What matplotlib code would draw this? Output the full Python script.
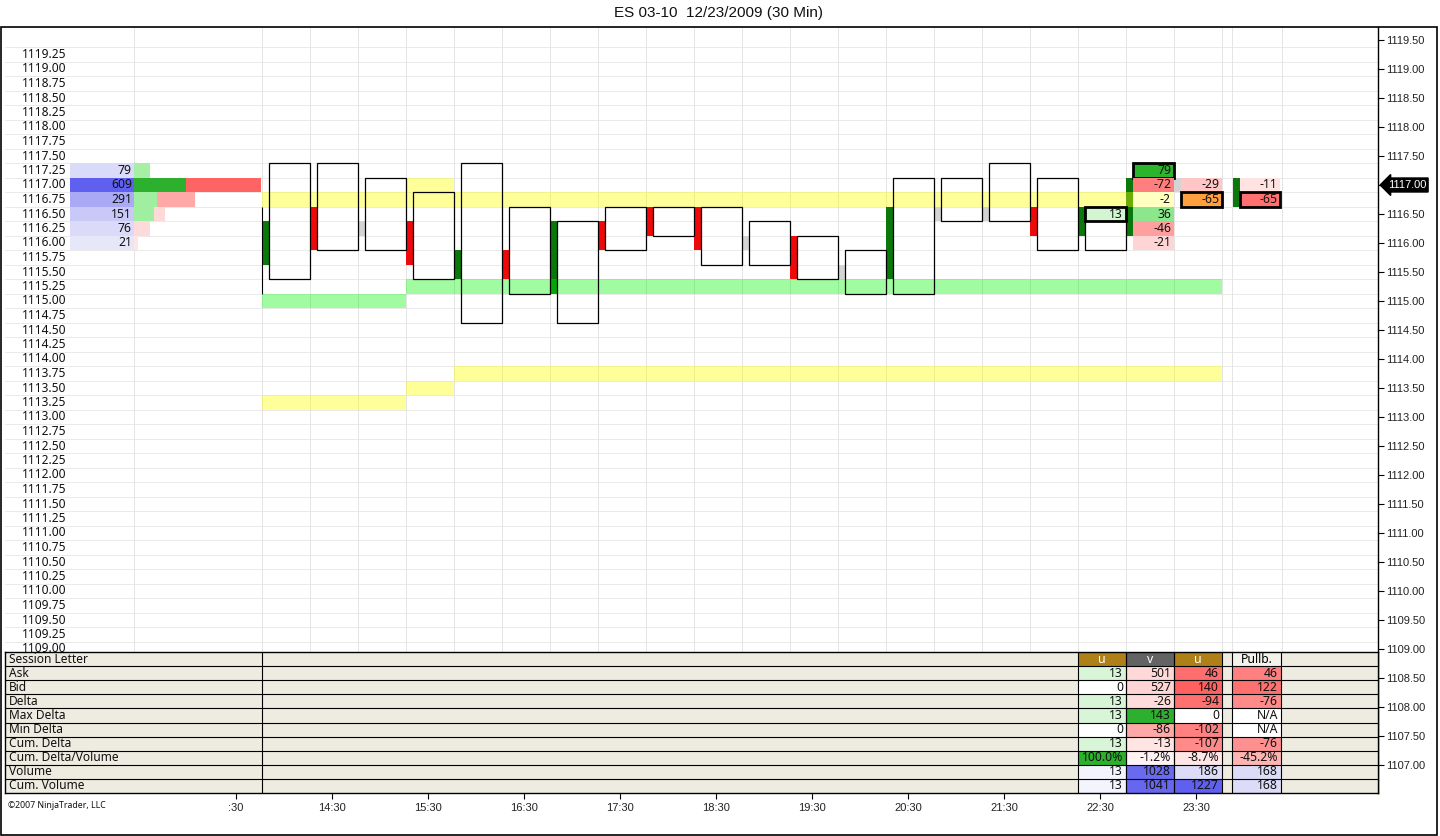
import matplotlib
matplotlib.use("Agg")
import matplotlib.pyplot as plt
import matplotlib.transforms as mtransforms
from matplotlib.patches import Rectangle
import numpy as np

# ---------------- data ----------------
title = "ES 03-10  12/23/2009 (30 Min)"

# 30-min bars (range boxes)
bar_high = [1117.25, 1117.25, 1117.00, 1116.75, 1117.25, 1116.50, 1116.25, 1116.50, 1116.50,
            1116.50, 1116.25, 1116.00, 1115.75, 1117.00, 1117.00, 1117.25, 1117.00, 1116.50]
bar_low = [1115.50, 1116.00, 1116.00, 1115.50, 1114.75, 1115.25, 1114.75, 1116.00, 1116.25,
           1115.75, 1115.75, 1115.50, 1115.25, 1115.25, 1116.50, 1116.50, 1116.00, 1116.00]

# side (open/close) marker per bar
side_dir = ['up', 'dn', 'flat', 'dn', 'up', 'dn', 'up', 'dn', 'dn', 'dn',
            'flat', 'dn', 'flat', 'up', 'flat', 'flat', 'dn', 'up', 'up', 'flat']
side_top = [1116.25, 1116.50, 1116.25, 1116.25, 1115.75, 1115.75, 1116.25, 1116.25, 1116.50, 1116.50,
            1116.00, 1116.00, 1115.50, 1116.50, 1116.50, 1116.50, 1116.50, 1116.50, 1117.00, 1117.00]
side_bot = [1115.75, 1116.00, 1116.25, 1115.75, 1115.50, 1115.50, 1115.25, 1116.00, 1116.25, 1116.00,
            1116.00, 1115.50, 1115.50, 1115.50, 1116.50, 1116.50, 1116.25, 1116.25, 1116.25, 1117.00]

# delta cells (bar index, price, value)
cell_bar = [17, 18, 18, 18, 18, 18, 18, 19, 19]
cell_price = [1116.50, 1117.25, 1117.00, 1116.75, 1116.50, 1116.25, 1116.00, 1117.00, 1116.75]
cell_value = [13, 79, -72, -2, 36, -46, -21, -29, -65]

# pullback column
pullb_side_top = 1117.00
pullb_side_bot = 1116.75
pullb_price = [1117.00, 1116.75]
pullb_value = [-11, -65]

# horizontal levels (price, start bar, end bar)
band_price = [1116.75, 1117.00, 1113.25, 1113.50, 1113.75, 1115.00, 1115.25]
band_start = [0, 3, 0, 3, 4, 0, 3]
band_end = [19, 4, 3, 4, 20, 3, 20]
band_kind = ['yellow', 'yellow', 'yellow', 'yellow', 'yellow', 'green', 'green']

# session volume profile
profile_price = [1117.25, 1117.00, 1116.75, 1116.50, 1116.25, 1116.00]
profile_volume = [79, 609, 291, 151, 76, 21]
profile_ask = [79, 249, 110, 97, 0, 0]
profile_bid = [0, 360, 181, 54, 76, 21]

# statistics table
row_labels = ["Session Letter", "Ask", "Bid", "Delta", "Max Delta", "Min Delta",
              "Cum. Delta", "Cum. Delta/Volume", "Volume", "Cum. Volume"]
col_headers = ["u", "v", "u", "Pullb."]
col_a = ["13", "0", "13", "13", "0", "13", "100.0%", "13", "13"]
col_b = ["501", "527", "-26", "143", "-86", "-13", "-1.2%", "1028", "1041"]
col_c = ["46", "140", "-94", "0", "-102", "-107", "-8.7%", "186", "1227"]
col_d = ["46", "122", "-76", "N/A", "N/A", "-76", "-45.2%", "168", "168"]

time_labels = [":30", "14:30", "15:30", "16:30", "17:30", "18:30",
               "19:30", "20:30", "21:30", "22:30", "23:30"]
last_price = 1117.00

# ---------------- styles ----------------
W, H = 1440, 836
SLOT_X0, SLOT_W = 262.0, 48.0          # pixel origin / width of one bar slot
def k(px):
    return (px - SLOT_X0) / SLOT_W

SIDE_W = 7 / SLOT_W
TICK = 0.25
side_colors = {'up': '#0A780A', 'dn': '#EE0A0A', 'flat': '#D4D4D4'}
band_colors = {'yellow': (1.0, 1.0, 0.0, 0.40), 'green': (0.0, 0.97, 0.0, 0.37)}
cell_colors = ['#D2F5D2', '#2DB42D', '#FF7F7F', '#FFFFC2', '#8CE68C', '#FFA0A0', '#FFD4D4',
               '#FFC6C6', '#FFA040']
cell_thick = [True, True, False, False, False, False, False, False, True]
pullb_colors = ['#FFE2E2', '#FF7070']
pullb_thick = [False, True]
ask_colors = ['#A6F0A6', '#2DB02D', '#A0EEA0', '#A0EEA0', '#A0EEA0', '#A0EEA0']
bid_colors = ['#FFE0E0', '#FF6464', '#FFA8A8', '#FFD8D8', '#FFDADA', '#FFE6E6']
PX_PER_CONTRACT = 0.2086

header_colors = ['#B08018', '#636363', '#B08018', '#F4F2EA']
header_text = ['white', 'white', 'white', 'black']
colors_a = ['#D8F5D8', '#FFFFFF', '#D8F5D8', '#D8F5D8', '#FFFFFF', '#D8F5D8', '#2DB02D', '#F4F4FF', '#F4F4FF']
colors_b = ['#FFD8D8', '#FFD4D4', '#FFDCDC', '#2DB02D', '#FFA8A8', '#FFE4E4', '#FFF2F2', '#6A6AF0', '#6666F0']
colors_c = ['#FF6E6E', '#FF6060', '#FF7070', '#FFFFFF', '#FF8080', '#FF8A8A', '#FFE6E6', '#DCDCF8', '#6060F0']
colors_d = ['#FF8080', '#FF7070', '#FF8A8A', '#FFFFFF', '#FFFFFF', '#FF9090', '#FFB4B4', '#DCDCF8', '#DCDCF8']
col_x = [(17.0, 18.0), (18.0, 19.0), (19.0, 20.0), (k(1232), k(1281))]

NUM_FONT = dict(family=['Noto Sans', 'DejaVu Sans'], fontsize=8.8)
LBL_FONT = dict(family=['Noto Sans', 'DejaVu Sans'], fontsize=8.6)
AX_FONT = dict(family=['Liberation Sans', 'DejaVu Sans'], fontsize=8)

# ---------------- figure ----------------
fig = plt.figure(figsize=(W / 100, H / 100), dpi=100)
fig.patch.set_facecolor('white')

top_px, bot_px, left_px, right_px = 27, 793, 5, 1378
tbl_top = 652
price_per_px = 1 / 58.0
ymax = last_price + (185 - top_px) * price_per_px
ymin = last_price - (bot_px - 185) * price_per_px

ax = fig.add_axes([left_px / W, 1 - bot_px / H, (right_px - left_px) / W, (bot_px - top_px) / H])
ax.set_xlim(k(left_px), k(right_px))
ax.set_ylim(ymin, ymax)
for s in ['left', 'top', 'bottom']:
    ax.spines[s].set_visible(False)
ax.spines['right'].set_linewidth(1.0)
ax.xaxis.set_visible(False)
ax.yaxis.tick_right()
yt = np.arange(1107.0, 1119.51, 0.5)
ax.set_yticks(yt)
ax.set_yticklabels(['' if abs(v - last_price) < 1e-6 else f"{v:.2f}" for v in yt], **AX_FONT)
ax.tick_params(axis='y', length=4.5, width=0.8, color='black', pad=1, labelcolor='#222222')

# grid
for yb in np.arange(1106.625, 1119.376, TICK):
    ax.axhline(yb, color='#EAEAEA', lw=0.7, zorder=0)
vgrid = [k(134)] + list(range(0, 21)) + [k(1232), k(1282)]
for xv in vgrid:
    ax.axvline(xv, color='#E4E4E4', lw=0.7, zorder=0)

# ladder labels (clipped at the top of the statistics table)
tbl_price = last_price - (tbl_top - 185) * price_per_px
clip_rect = Rectangle((k(left_px), tbl_price), k(right_px) - k(left_px), ymax - tbl_price,
                      transform=ax.transData, fc='none', ec='none')
ax.add_patch(clip_rect)
for p in np.arange(1109.0, 1119.26, TICK):
    t = ax.text(k(22), p, f"{p:.2f}", ha='left', va='center', color='#111111', zorder=2, **LBL_FONT)
    t.set_clip_path(clip_rect)

# volume profile
vmax = max(profile_volume)
lo = np.array([236, 236, 250]) / 255
hi = np.array([96, 96, 240]) / 255
for i, p in enumerate(profile_price):
    t = profile_volume[i] / vmax
    c = lo + (hi - lo) * t
    ax.add_patch(Rectangle((k(70), p - TICK / 2), k(134) - k(70), TICK, fc=c, ec='none', zorder=1))
    ax.text(k(132), p, str(profile_volume[i]), ha='right', va='center', color='#111111', zorder=3, **NUM_FONT)
    wa = profile_ask[i] * PX_PER_CONTRACT / SLOT_W
    wb = profile_bid[i] * PX_PER_CONTRACT / SLOT_W
    if wa > 0:
        ax.add_patch(Rectangle((k(134), p - TICK / 2), wa, TICK, fc=ask_colors[i], ec='none', zorder=1))
    if wb > 0:
        ax.add_patch(Rectangle((k(134) + wa, p - TICK / 2), wb, TICK, fc=bid_colors[i], ec='none', zorder=1))

# thin line at session start
ax.vlines(0.0, 1115.125, 1116.625, color='black', lw=0.8, zorder=2)

# side markers
for i, d in enumerate(side_dir):
    ax.add_patch(Rectangle((i, side_bot[i] - TICK / 2), SIDE_W, side_top[i] - side_bot[i] + TICK,
                           fc=side_colors[d], ec='none', zorder=1.5))
ax.add_patch(Rectangle((k(1233), pullb_side_bot - TICK / 2), SIDE_W, pullb_side_top - pullb_side_bot + TICK,
                       fc=side_colors['up'], ec='none', zorder=1.5))

# bands
for p, s, e, kind in zip(band_price, band_start, band_end, band_kind):
    ax.add_patch(Rectangle((s, p - TICK / 2), e - s, TICK, fc=band_colors[kind], ec='none', zorder=2))

# boxes
for i, (h, l) in enumerate(zip(bar_high, bar_low)):
    ax.add_patch(Rectangle((i + SIDE_W, l - TICK / 2), 1 - SIDE_W, h - l + TICK,
                           fill=False, ec='black', lw=0.9, zorder=3))

# delta cells
for b, p, v, c, th in zip(cell_bar, cell_price, cell_value, cell_colors, cell_thick):
    ax.add_patch(Rectangle((b + SIDE_W, p - TICK / 2), 1 - SIDE_W, TICK, fc=c,
                           ec='black' if th else 'none', lw=2.0 if th else 0, zorder=4))
    ax.text(b + 1 - 3 / SLOT_W, p, str(v), ha='right', va='center', color='#111111', zorder=5, **NUM_FONT)
for p, v, c, th in zip(pullb_price, pullb_value, pullb_colors, pullb_thick):
    ax.add_patch(Rectangle((k(1240), p - TICK / 2), k(1280) - k(1240), TICK, fc=c,
                           ec='black' if th else 'none', lw=2.0 if th else 0, zorder=4))
    ax.text(k(1277), p, str(v), ha='right', va='center', color='#111111', zorder=5, **NUM_FONT)

# last price marker
blend = mtransforms.blended_transform_factory(ax.transAxes, ax.transData)
ax.annotate(f"{last_price:.2f}", xy=(1.0, last_price), xycoords=blend, xytext=(7, 0),
            textcoords='offset points', ha='left', va='center', color='white',
            bbox=dict(boxstyle='larrow,pad=0.18', fc='black', ec='black'),
            annotation_clip=False, zorder=6, **AX_FONT)

# ---------------- table ----------------
tax = fig.add_axes([left_px / W, 1 - bot_px / H, (right_px - left_px) / W, (bot_px - tbl_top) / H])
tax.set_zorder(5)
tax.set_facecolor('#EEEBE0')
tax.set_xlim(k(left_px), k(right_px))
tax.set_ylim(len(row_labels), 0)
for s in tax.spines.values():
    s.set_linewidth(1.0)
tax.set_yticks([])
tick_k = [k(236) + 2 * j for j in range(len(time_labels))]
tax.set_xticks(tick_k)
tax.set_xticklabels(time_labels, **AX_FONT)
tax.tick_params(axis='x', length=4, width=0.8, color='black', pad=3, labelcolor='#222222')

for i, lab in enumerate(row_labels):
    tax.text(k(9), i + 0.5, lab, ha='left', va='center', color='#111111', **LBL_FONT)

columns = [col_a, col_b, col_c, col_d]
col_cols = [colors_a, colors_b, colors_c, colors_d]
for ci, (x0, x1) in enumerate(col_x):
    tax.add_patch(Rectangle((x0, 0), x1 - x0, 1, fc=header_colors[ci], ec='none', zorder=1))
    tax.text((x0 + x1) / 2, 0.5, col_headers[ci], ha='center', va='center',
             color=header_text[ci], zorder=3, **NUM_FONT)
    for r, (val, c) in enumerate(zip(columns[ci], col_cols[ci])):
        tax.add_patch(Rectangle((x0, r + 1), x1 - x0, 1, fc=c, ec='none', zorder=1))
        tax.text(x1 - 3 / SLOT_W, r + 1.5, val, ha='right', va='center', color='#111111',
                 zorder=3, **NUM_FONT)

tax.hlines(np.arange(1, len(row_labels)), k(left_px), k(right_px), color='black', lw=0.8, zorder=2)
for xv in [0.0] + [c[0] for c in col_x] + [c[1] for c in col_x]:
    tax.axvline(xv, color='black', lw=0.8, zorder=2)

# ---------------- frame / texts ----------------
fig.add_artist(Rectangle((1 / W, 1 - 835 / H), 1436 / W, (835 - 27) / H, transform=fig.transFigure,
                         fill=False, ec='black', lw=1.2))
fig.text(718 / W, 1 - 13 / H, title, ha='center', va='center', color='#111111',
         family=['Liberation Sans', 'DejaVu Sans'], fontsize=11)
fig.text(8 / W, 1 - 806 / H, "\u00a92007 NinjaTrader, LLC", ha='left', va='center', color='#111111',
         family=['Noto Sans', 'DejaVu Sans'], fontsize=6.3)

fig.savefig("out.png", dpi=100)
